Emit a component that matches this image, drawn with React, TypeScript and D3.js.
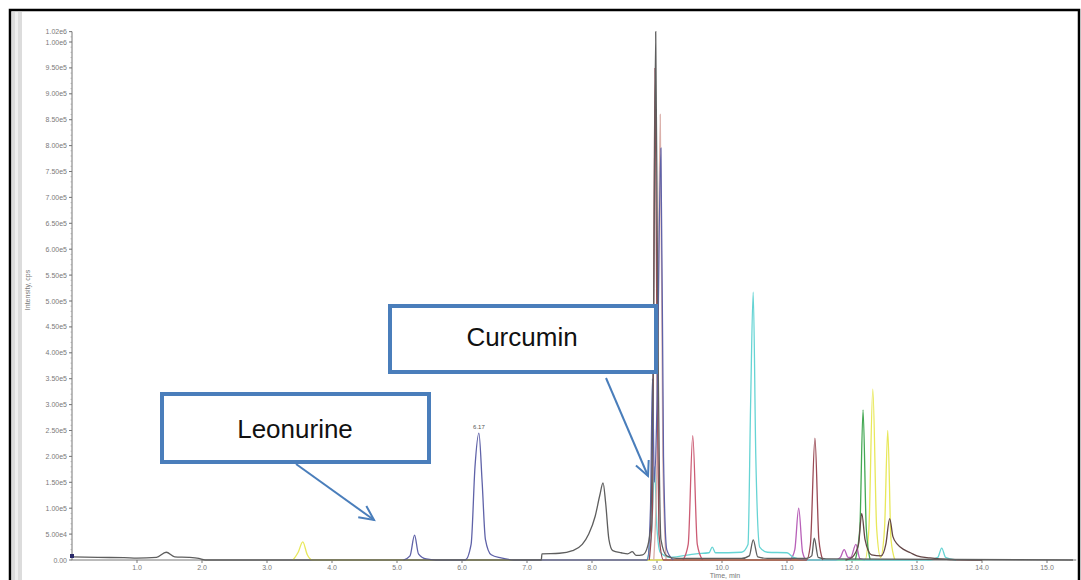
import React from "react";
import * as d3 from "d3";

type Pt = [number, number];

// ---- axis ticks ----
const xTickValues = [1, 2, 3, 4, 5, 6, 7, 8, 9, 10, 11, 12, 13, 14, 15];
const xTickLabels = ["1.0", "2.0", "3.0", "4.0", "5.0", "6.0", "7.0", "8.0", "9.0", "10.0", "11.0", "12.0", "13.0", "14.0", "15.0"];
const yTickValues = [0, 5e4, 1e5, 1.5e5, 2e5, 2.5e5, 3e5, 3.5e5, 4e5, 4.5e5, 5e5, 5.5e5, 6e5, 6.5e5, 7e5, 7.5e5, 8e5, 8.5e5, 9e5, 9.5e5, 1e6, 1.02e6];
const yTickLabels = ["0.00", "5.00e4", "1.00e5", "1.50e5", "2.00e5", "2.50e5", "3.00e5", "3.50e5", "4.00e5", "4.50e5", "5.00e5", "5.50e5", "6.00e5", "6.50e5", "7.00e5", "7.50e5", "8.00e5", "8.50e5", "9.00e5", "9.50e5", "1.00e6", "1.02e6"];

// ---- traces (time min, intensity cps) ----
const yellowTrace: Pt[] = [
  [3.4, 0], [3.48, 15000], [3.55, 35000], [3.62, 10000], [3.7, 0],
  [12.2, 0], [12.26, 60000], [12.32, 330000], [12.38, 60000], [12.44, 5000],
  [12.5, 60000], [12.55, 250000], [12.6, 40000], [12.66, 0],
];
const greenTrace: Pt[] = [
  [12.05, 0], [12.12, 60000], [12.17, 290000], [12.22, 60000], [12.28, 0],
];
const magentaTrace: Pt[] = [
  [11.05, 0], [11.12, 20000], [11.18, 100000], [11.24, 15000], [11.3, 0],
  [11.75, 0], [11.82, 5000], [11.88, 20000], [11.94, 5000], [11.98, 5000],
  [12.06, 30000], [12.12, 3000], [12.2, 0],
];
const cyanTrace: Pt[] = [
  [8.85, 0], [8.92, 60000], [8.96, 180000], [9.0, 60000], [9.05, 15000], [9.2, 5000],
  [9.6, 12000], [9.8, 14000], [9.85, 25000], [9.9, 14000], [10.3, 15000], [10.4, 30000],
  [10.44, 300000], [10.48, 517000], [10.52, 200000], [10.58, 25000], [10.7, 15000],
  [11.0, 14000], [11.1, 5000], [11.3, 0],
  [13.2, 0], [13.32, 5000], [13.38, 23000], [13.44, 5000], [13.6, 0],
];
const pinkRedTrace: Pt[] = [
  [9.4, 0], [9.48, 30000], [9.55, 240000], [9.62, 30000], [9.7, 0],
];
const tanTrace: Pt[] = [
  [8.95, 0], [9.0, 200000], [9.05, 860000], [9.09, 200000], [9.14, 0],
];
const brownRedTrace: Pt[] = [
  [8.88, 0], [8.93, 100000], [8.97, 950000], [9.0, 400000], [9.03, 50000], [9.1, 0],
  [11.3, 0], [11.36, 30000], [11.43, 235000], [11.49, 40000], [11.55, 0],
];
const navyTrace: Pt[] = [
  [5.1, 0], [5.2, 8000], [5.27, 48000], [5.33, 12000], [5.45, 2000], [5.6, 0],
  [6.05, 0], [6.14, 30000], [6.2, 180000], [6.26, 245000], [6.31, 150000], [6.36, 40000],
  [6.45, 10000], [6.6, 4000], [6.8, 0],
  [8.85, 0], [8.9, 100000], [8.93, 350000], [8.96, 150000], [9.0, 300000], [9.06, 795000],
  [9.1, 200000], [9.15, 20000], [9.25, 0],
];
const darkBrownTrace: Pt[] = [
  [11.9, 0], [12.0, 5000], [12.1, 30000], [12.15, 90000], [12.2, 40000], [12.3, 10000],
  [12.45, 8000], [12.52, 30000], [12.58, 80000], [12.63, 45000], [12.7, 30000], [12.8, 20000],
  [12.9, 14000], [13.0, 8000], [13.2, 4000], [13.5, 1000], [14.0, 0],
];
const grayTrace: Pt[] = [
  [0.0, 6000], [0.4, 5000], [0.8, 4500], [1.0, 3500], [1.3, 5000], [1.45, 15000], [1.58, 6000],
  [1.8, 5000], [1.95, 3000], [2.05, 0],
  [7.22, 0], [7.23, 12000], [7.5, 13000], [7.7, 18000], [7.85, 30000], [7.95, 50000],
  [8.05, 85000], [8.12, 125000], [8.17, 149000], [8.21, 110000], [8.26, 40000], [8.32, 18000],
  [8.45, 14000], [8.55, 12000], [8.62, 16000], [8.68, 9000], [8.78, 10000], [8.84, 20000],
  [8.9, 60000], [8.95, 500000], [8.98, 1020000], [9.01, 500000], [9.06, 40000], [9.15, 8000],
  [9.3, 3000], [10.3, 3000], [10.42, 8000], [10.48, 39000], [10.55, 6000], [10.7, 3000],
  [11.3, 3000], [11.38, 8000], [11.42, 42000], [11.48, 5000], [11.6, 2000], [15.4, 0],
];

const traces: { data: Pt[]; color: string }[] = [
  { data: yellowTrace, color: "#e8e85a" },
  { data: greenTrace, color: "#44a854" },
  { data: magentaTrace, color: "#b860b8" },
  { data: cyanTrace, color: "#66d4d4" },
  { data: pinkRedTrace, color: "#cc5c74" },
  { data: tanTrace, color: "#dbb0aa" },
  { data: brownRedTrace, color: "#9a4a55" },
  { data: navyTrace, color: "#5f62a8" },
  { data: darkBrownTrace, color: "#634646" },
  { data: grayTrace, color: "#5e5e5e" },
];

const W = 1081;
const H = 580;

export default function App() {
  const x = d3.scaleLinear().domain([0, 15.45]).range([72, 72 + 65 * 15.45]);
  const y = d3.scaleLinear().domain([0, 1e6]).range([560, 42]);
  const line = d3
    .line<Pt>()
    .x((d) => x(d[0]))
    .y((d) => y(d[1]))
    .curve(d3.curveMonotoneX);
  const minorY = d3.range(0, 1.02e6 + 1, 1e4);
  const blue = "#4a7ebb";
  const ann = "Liberation Sans, Arial, sans-serif";
  const arrowHead = (x1: number, y1: number, x2: number, y2: number) => {
    const a = Math.atan2(y2 - y1, x2 - x1);
    const L = 16;
    const s = Math.PI / 7;
    return `M${x2 - L * Math.cos(a - s)},${y2 - L * Math.sin(a - s)} L${x2},${y2} L${x2 - L * Math.cos(a + s)},${y2 - L * Math.sin(a + s)}`;
  };
  return (
    <svg
      width={W}
      height={H}
      style={{ position: "absolute", left: 0, top: 0, background: "#fff" }}
      fontFamily="Arial, Liberation Sans, sans-serif"
    >
      <rect x={0} y={0} width={W} height={H} fill="#fff" />
      {/* window frame */}
      <rect x={12} y={12} width={10} height={H} fill="#dcdcdc" />
      <rect x={15} y={12} width={3} height={H} fill="#efefef" />
      <rect x={10} y={10} width={1069} height={H + 10} fill="none" stroke="#000" strokeWidth={2.5} />

      {/* y axis */}
      <line x1={72} x2={72} y1={y(1.02e6)} y2={560} stroke="#777" strokeWidth={1} />
      {minorY.map((v) => (
        <line key={"m" + v} x1={70.5} x2={72} y1={y(v)} y2={y(v)} stroke="#999" strokeWidth={0.6} />
      ))}
      {yTickValues.map((v, i) => (
        <g key={"y" + v}>
          <line x1={69} x2={72} y1={y(v)} y2={y(v)} stroke="#777" />
          <text x={67} y={y(v) + 2.5} fontSize={7} fill="#7a7a7a" textAnchor="end">
            {yTickLabels[i]}
          </text>
        </g>
      ))}
      <text transform="translate(30,290) rotate(-90)" fontSize={7} fill="#777" textAnchor="middle">
        Intensity, cps
      </text>

      {/* x axis */}
      <line x1={72} x2={x(15.45)} y1={560} y2={560} stroke="#777" strokeWidth={1} />
      {xTickValues.map((v, i) => (
        <g key={"x" + v}>
          <line x1={x(v)} x2={x(v)} y1={560} y2={563} stroke="#777" />
          <text x={x(v)} y={570} fontSize={7} fill="#7a7a7a" textAnchor="middle">
            {xTickLabels[i]}
          </text>
        </g>
      ))}
      <text x={725} y={578} fontSize={7} fill="#777" textAnchor="middle">
        Time, min
      </text>

      {/* traces */}
      {traces.map((t, i) => (
        <path key={i} d={line(t.data) || ""} fill="none" stroke={t.color} strokeWidth={1.3} />
      ))}
      <rect x={70} y={554} width={4} height={4} fill="#2a2a6a" />
      <text x={x(6.26)} y={y(245000) - 4} fontSize={6} fill="#555" textAnchor="middle">
        6.17
      </text>

      {/* annotations */}
      <path d="M296,464 L374,520" stroke={blue} strokeWidth={2} fill="none" />
      <path d={arrowHead(296, 464, 374, 520)} stroke={blue} strokeWidth={2} fill="none" />
      <path d="M606,378 L648,476" stroke={blue} strokeWidth={2} fill="none" />
      <path d={arrowHead(606, 378, 648, 476)} stroke={blue} strokeWidth={2} fill="none" />

      <rect x={162} y={394} width={267} height={68} fill="#fff" stroke={blue} strokeWidth={4} />
      <text x={295} y={438} fontSize={26} fontFamily={ann} fill="#111" textAnchor="middle">
        Leonurine
      </text>
      <rect x={390} y={306} width={266} height={66} fill="#fff" stroke={blue} strokeWidth={4} />
      <text x={522} y={346} fontSize={26} fontFamily={ann} fill="#111" textAnchor="middle">
        Curcumin
      </text>
    </svg>
  );
}
